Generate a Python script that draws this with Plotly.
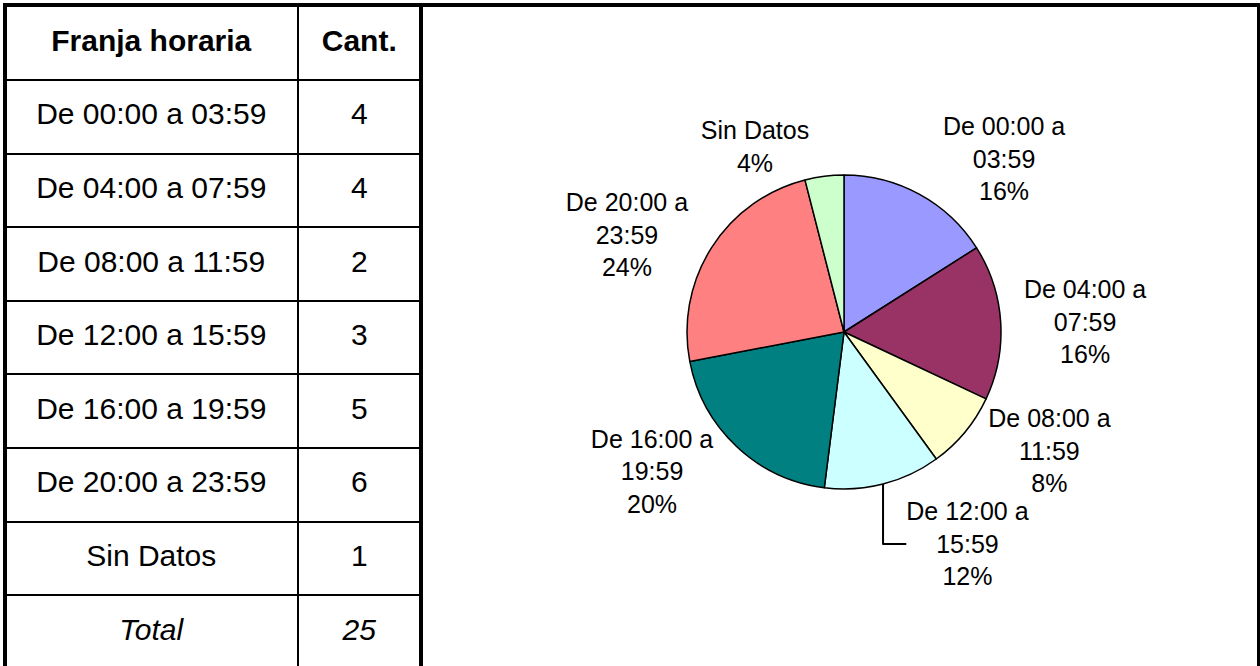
import plotly.graph_objects as go

# ---------------- data ----------------
FRANJAS = ["De 00:00 a 03:59", "De 04:00 a 07:59", "De 08:00 a 11:59",
           "De 12:00 a 15:59", "De 16:00 a 19:59", "De 20:00 a 23:59", "Sin Datos"]
CANTIDADES = [4, 4, 2, 3, 5, 6, 1]
HEADERS = ["Franja horaria", "Cant."]
TOTAL_LABEL = "Total"
COLORS = ["#9999FF", "#993366", "#FFFFCC", "#CCFFFF", "#008080", "#FF8080", "#CCFFCC"]

# ---------------- layout helpers ----------------
W, H = 1260, 666
FONT = "Liberation Sans, Arial, sans-serif"


def px(x):
    return x / W


def py(y):
    return 1 - y / H


COLW = [292.5, 123.5]  # column widths (px units == axis units)
col_centers = [COLW[0] / 2, COLW[0] + COLW[1] / 2]
total = sum(CANTIDADES)

col1_text = ["<b>%s</b>" % HEADERS[0]] + FRANJAS + ["<i>%s</i>" % TOTAL_LABEL]
col2_text = ["<b>%s</b>" % HEADERS[1]] + [str(v) for v in CANTIDADES] + ["<i>%d</i>" % total]
rows = list(range(len(col1_text)))

fig = go.Figure()

for cx, txt in zip(col_centers, [col1_text, col2_text]):
    fig.add_trace(go.Scatter(x=[cx] * len(rows), y=rows, text=txt,
                             mode="text", textposition="middle center",
                             textfont=dict(family=FONT, size=30, color="black"),
                             hoverinfo="skip", showlegend=False))

pie_labels = [f.replace(" a ", " a<br>") for f in FRANJAS]
fig.add_trace(go.Pie(labels=pie_labels, values=CANTIDADES, sort=False,
                     direction="clockwise", rotation=0,
                     marker=dict(colors=COLORS, line=dict(color="black", width=1.5)),
                     textposition="outside", texttemplate="%{label}<br>%{percent:.0%}",
                     textfont=dict(family=FONT, size=25, color="black"),
                     domain=dict(x=[px(687), px(1001)], y=[py(489), py(175)]),
                     showlegend=False, hoverinfo="skip"))

row_h = 73.6
first_line = 80.0
top_px = 5.0
y_top = 0.5 - (first_line - top_px) / row_h
y_bot = 0.5 + (H - first_line) / row_h

fig.update_layout(
    width=W, height=H, margin=dict(l=0, r=0, t=0, b=0),
    paper_bgcolor="white", plot_bgcolor="white",
    xaxis=dict(domain=[px(5), px(421)], range=[0, sum(COLW)],
               tickvals=[COLW[0]], showgrid=True, gridcolor="black", gridwidth=1.5,
               showticklabels=False, ticks="", zeroline=False, showline=False, fixedrange=True),
    yaxis=dict(domain=[0, py(top_px)], range=[y_bot, y_top],
               tickvals=[i + 0.5 for i in range(len(rows))], showgrid=True,
               gridcolor="black", gridwidth=1.5,
               showticklabels=False, ticks="", zeroline=False, showline=False, fixedrange=True),
    shapes=[
        dict(type="rect", xref="paper", yref="paper", x0=px(3), x1=px(1261), y0=py(3), y1=py(7),
             fillcolor="black", line=dict(width=0), layer="above"),
        dict(type="rect", xref="paper", yref="paper", x0=px(3), x1=px(7), y0=py(3), y1=py(667),
             fillcolor="black", line=dict(width=0), layer="above"),
        dict(type="rect", xref="paper", yref="paper", x0=px(419), x1=px(423), y0=py(3), y1=py(667),
             fillcolor="black", line=dict(width=0), layer="above"),
        dict(type="rect", xref="paper", yref="paper", x0=px(1257), x1=px(1261), y0=py(3), y1=py(667),
             fillcolor="black", line=dict(width=0), layer="above"),
    ],
)

fig.write_html("out.html", include_plotlyjs=True, config={"displayModeBar": False},
               post_script="document.body.style.margin='0';document.body.style.overflow='hidden';")
